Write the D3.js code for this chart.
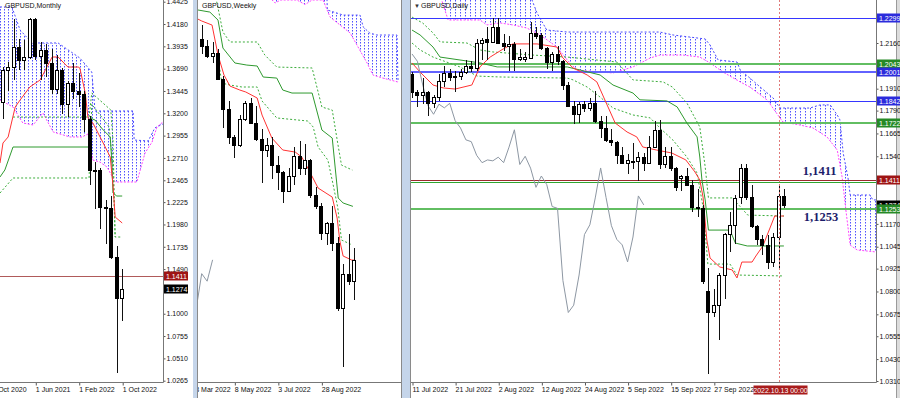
<!DOCTYPE html>
<html>
<head>
<meta charset="utf-8">
<script src="https://cdn.jsdelivr.net/npm/d3@7"></script>
<style>
  body { margin: 0; background: #fff; }
  svg { display: block; font-family: "Liberation Sans", Arial, sans-serif; }
</style>
</head>
<body>
<svg id="chart" width="900" height="398"></svg>
<script>
// ---------- monthly, Dec 2020 .. Oct 2022  [open, high, low, close]
const monthlyBars = [
  [1.3325, 1.3705, 1.3135, 1.3670], [1.3670, 1.3760, 1.3450, 1.3705], [1.3705, 1.4240, 1.3565, 1.3925],
  [1.3925, 1.4015, 1.3670, 1.3785], [1.3785, 1.4010, 1.3670, 1.3815], [1.3815, 1.4250, 1.3800, 1.4230],
  [1.4230, 1.4250, 1.3785, 1.3830], [1.3830, 1.3985, 1.3570, 1.3900], [1.3900, 1.3960, 1.3600, 1.3755],
  [1.3755, 1.3910, 1.3410, 1.3470], [1.3470, 1.3835, 1.3410, 1.3680], [1.3680, 1.3700, 1.3190, 1.3300],
  [1.3300, 1.3550, 1.3160, 1.3530], [1.3530, 1.3750, 1.3355, 1.3450], [1.3450, 1.3640, 1.3270, 1.3410],
  [1.3410, 1.3440, 1.3000, 1.3140], [1.3140, 1.3165, 1.2410, 1.2575], [1.2575, 1.2665, 1.2155, 1.2580],
  [1.2580, 1.2600, 1.1935, 1.2175], [1.2175, 1.2245, 1.1760, 1.2165], [1.2165, 1.2295, 1.1600, 1.1620],
  [1.1620, 1.1740, 1.0350, 1.1170], [1.1170, 1.1495, 1.0925, 1.1274]
]
const monthlyTenkan = [[-0.5, 1.2654], [0.05, 1.2874], [1, 1.2940], [2.3, 1.3269], [3.2, 1.3346], [5, 1.3489],
  [6.9, 1.3566], [9.1, 1.3818], [10.2, 1.3818], [12, 1.3708], [13.9, 1.3708], [14.2, 1.3697], [15.2, 1.3423],
  [15.7, 1.3148], [16.6, 1.3094], [18.5, 1.2874], [19.8, 1.2720], [20.3, 1.2413], [20.7, 1.2062], [22, 1.1996]]
const monthlyKijun = [[-0.5, 1.2501], [0.4, 1.2578], [1.9, 1.2830], [15.9, 1.2830], [16.1, 1.3148], [17, 1.3126],
  [18.5, 1.3017], [19.8, 1.2940], [20.1, 1.2654], [20.3, 1.2325], [21, 1.2292], [22, 1.2292]]
const monthlyGuideA = [[1.9, 1.3159], [15.9, 1.3159], [16.4, 1.3423], [19.9, 1.3236], [20.3, 1.2907],
  [20.7, 1.1842], [22, 1.1842]]
const monthlyGuideB = [[-0.5, 1.2325], [1.9, 1.2490], [15.9, 1.2490], [16.4, 1.3300], [19.6, 1.3050],
  [20.3, 1.2600], [20.7, 1.1842]]
const monthlyCloudTop = [[-0.5, 1.4367], [1.7, 1.4367], [3.2, 1.4114], [5.4, 1.3972], [10.2, 1.3972], [14.2, 1.3807],
  [16.4, 1.3653], [17, 1.3225], [24, 1.3225], [24.2, 1.2907], [26.8, 1.2896], [28, 1.3039], [29.5, 1.3083]]
const monthlyCloudBottom = [[-0.5, 1.3346], [1.9, 1.3269], [3.7, 1.3094], [5.6, 1.3072], [7.4, 1.3203], [9.3, 1.2995],
  [12.4, 1.2940], [14.6, 1.2940], [15.7, 1.2973], [16.6, 1.2687], [17.9, 1.2665], [19.2, 1.2611], [20.7, 1.2446],
  [24.7, 1.2446], [26.2, 1.2764], [27.5, 1.2885], [28.4, 1.3050], [29.5, 1.3105]]
const monthlyLevel = 1.1411
const monthTicks = [1.4425, 1.4180, 1.3935, 1.3690, 1.3445, 1.3200, 1.2955, 1.2710, 1.2465, 1.2225, 1.1980,
  1.1735, 1.1490, 1.1000, 1.0755, 1.0510, 1.0265]
const monthLabels = [[-2, '1 Oct 2020'], [6, '1 Jun 2021'], [14, '1 Feb 2022'], [22, '1 Oct 2022']]

// ---------- weekly, week of 28 Mar 2022 .. week of 10 Oct 2022
const weeklyBars = [
  [1.3180, 1.3300, 1.3050, 1.3115], [1.3115, 1.3170, 1.3015, 1.3035], [1.3035, 1.3150, 1.2975, 1.3060],
  [1.3060, 1.3090, 1.2830, 1.2835], [1.2835, 1.2860, 1.2410, 1.2575], [1.2575, 1.2640, 1.2275, 1.2335],
  [1.2335, 1.2350, 1.2155, 1.2260], [1.2260, 1.2525, 1.2250, 1.2485], [1.2485, 1.2640, 1.2470, 1.2625],
  [1.2625, 1.2665, 1.2460, 1.2450], [1.2450, 1.2600, 1.2300, 1.2315], [1.2315, 1.2405, 1.1935, 1.2220],
  [1.2225, 1.2325, 1.2160, 1.2265], [1.2265, 1.2330, 1.1975, 1.2095], [1.2095, 1.2165, 1.1875, 1.2030],
  [1.2030, 1.2040, 1.1760, 1.1870], [1.1870, 1.2065, 1.1860, 1.2000], [1.2000, 1.2245, 1.1920, 1.2165],
  [1.2165, 1.2295, 1.2005, 1.2070], [1.2070, 1.2275, 1.2005, 1.2135], [1.2135, 1.2140, 1.1805, 1.1830],
  [1.1830, 1.1900, 1.1715, 1.1735], [1.1735, 1.1760, 1.1445, 1.1505], [1.1505, 1.1600, 1.1405, 1.1590],
  [1.1590, 1.1740, 1.1350, 1.1420], [1.1420, 1.1470, 1.0835, 1.0855], [1.0855, 1.1235, 1.0350, 1.1155],
  [1.1155, 1.1495, 1.1060, 1.1090], [1.1090, 1.1380, 1.0925, 1.1274]
]
const weeklyTenkan = [[-1.1, 1.3359], [0, 1.3333], [1.9, 1.3298], [3, 1.3040], [4.1, 1.2867], [5.2, 1.2772],
  [7, 1.2738], [8.1, 1.2721], [10.2, 1.2669], [11.1, 1.2522], [12.9, 1.2324], [14.9, 1.2221], [17.2, 1.2203],
  [18.4, 1.2160], [19.5, 1.2066], [21.4, 1.1893], [24, 1.1815], [24.9, 1.1634], [25.4, 1.1436], [26, 1.1307],
  [27.6, 1.1272], [28.2, 1.1272]]
const weeklyKijun = [[-0.7, 1.3428], [1.5, 1.3410], [3, 1.3341], [3.9, 1.3100], [6.1, 1.2971], [8.3, 1.2953],
  [10.2, 1.2945], [11.3, 1.2850], [13.8, 1.2841], [14.9, 1.2738], [16.6, 1.2712], [20.3, 1.2712], [22.1, 1.2393],
  [24, 1.2324], [25.1, 1.1807], [26, 1.1764], [27.8, 1.1735]]
const weeklyGuideA = [[2.3, 1.3600], [3, 1.3445], [3.9, 1.3238], [5.2, 1.3152], [10.2, 1.3152], [11.6, 1.3040],
  [13.8, 1.2936], [20.3, 1.2928], [22.1, 1.2591], [24, 1.2565], [25, 1.2281], [25.7, 1.2091], [27.7, 1.2048]]
const weeklyGuideB = [[2.9, 1.3050], [3.7, 1.2798], [5.2, 1.2781], [7.4, 1.2764], [10.2, 1.2764], [11.1, 1.2643],
  [13.8, 1.2497], [19.5, 1.2471], [20.5, 1.2419], [21.4, 1.2247], [23.2, 1.2134], [24.1, 1.1936], [25, 1.1729],
  [25.7, 1.1445], [27.7, 1.1402]]
const weeklyCloudTop = [[12, 1.3700], [22.9, 1.3700], [23.1, 1.3428], [26, 1.3384], [29.1, 1.3384], [29.7, 1.3281],
  [30.9, 1.3229], [32.2, 1.3212], [35.9, 1.3212], [36.1, 1.2807]]
const weeklyCloudBottom = [[12, 1.3560], [13.5, 1.3488], [14.5, 1.3514], [17.5, 1.3514], [19, 1.3475], [20.3, 1.3514],
  [22.3, 1.3514], [23.6, 1.3367], [27.3, 1.3229], [30.4, 1.2971], [31.5, 1.2867], [33.3, 1.2841], [36.1, 1.2807]]
const weeklyLagging = [[-1, 1.0855], [0, 1.1155], [1, 1.1090], [2, 1.1274]]
const weekLabels = [[-2, '13 Mar 2022'], [6, '8 May 2022'], [14, '3 Jul 2022'], [22, '28 Aug 2022']]

// ---------- daily, 11 Jul 2022 .. 14 Oct 2022
const dailyBars = [
  [1.1990, 1.2000, 1.1860, 1.1890], [1.1890, 1.1905, 1.1810, 1.1875], [1.1875, 1.1970, 1.1825, 1.1890],
  [1.1890, 1.1900, 1.1760, 1.1830], [1.1830, 1.1875, 1.1805, 1.1865], [1.1865, 1.1990, 1.1845, 1.1950],
  [1.1950, 1.2035, 1.1920, 1.1995], [1.1995, 1.2015, 1.1950, 1.1975], [1.1975, 1.2005, 1.1890, 1.1980],
  [1.1980, 1.2020, 1.1960, 1.2000], [1.2000, 1.2065, 1.1990, 1.2035], [1.2035, 1.2060, 1.2000, 1.2025],
  [1.2025, 1.2180, 1.2005, 1.2160], [1.2160, 1.2185, 1.2065, 1.2175], [1.2180, 1.2245, 1.2065, 1.2165],
  [1.2165, 1.2295, 1.2160, 1.2245], [1.2250, 1.2295, 1.2155, 1.2160], [1.2160, 1.2210, 1.2115, 1.2145],
  [1.2145, 1.2200, 1.2005, 1.2155], [1.2155, 1.2165, 1.2005, 1.2070], [1.2070, 1.2125, 1.2060, 1.2085],
  [1.2075, 1.2110, 1.2055, 1.2085], [1.2080, 1.2275, 1.2070, 1.2215], [1.2215, 1.2245, 1.2180, 1.2200],
  [1.2205, 1.2215, 1.2120, 1.2135], [1.2135, 1.2140, 1.2020, 1.2055], [1.2055, 1.2110, 1.2005, 1.2100],
  [1.2100, 1.2145, 1.2040, 1.2060], [1.2060, 1.2065, 1.1905, 1.1930], [1.1930, 1.1945, 1.1815, 1.1815],
  [1.1815, 1.1840, 1.1715, 1.1770], [1.1770, 1.1835, 1.1720, 1.1825], [1.1825, 1.1845, 1.1785, 1.1805],
  [1.1805, 1.1860, 1.1790, 1.1830], [1.1830, 1.1900, 1.1720, 1.1735], [1.1735, 1.1760, 1.1640, 1.1695],
  [1.1695, 1.1760, 1.1620, 1.1630], [1.1630, 1.1690, 1.1595, 1.1620], [1.1620, 1.1625, 1.1500, 1.1545],
  [1.1545, 1.1590, 1.1495, 1.1505], [1.1505, 1.1550, 1.1445, 1.1520], [1.1515, 1.1610, 1.1470, 1.1515],
  [1.1515, 1.1565, 1.1405, 1.1535], [1.1535, 1.1560, 1.1460, 1.1505], [1.1505, 1.1650, 1.1500, 1.1590],
  [1.1590, 1.1735, 1.1585, 1.1685], [1.1685, 1.1740, 1.1470, 1.1495], [1.1495, 1.1590, 1.1475, 1.1540],
  [1.1540, 1.1590, 1.1460, 1.1475], [1.1475, 1.1480, 1.1350, 1.1370], [1.1420, 1.1440, 1.1350, 1.1432],
  [1.1432, 1.1475, 1.1380, 1.1385], [1.1385, 1.1410, 1.1235, 1.1265], [1.1265, 1.1360, 1.1210, 1.1255],
  [1.1255, 1.1275, 1.0840, 1.0860], [1.0800, 1.0930, 1.0350, 1.0685], [1.0685, 1.0815, 1.0660, 1.0725],
  [1.0725, 1.0900, 1.0535, 1.0890], [1.0890, 1.1120, 1.0760, 1.1112], [1.1112, 1.1235, 1.1015, 1.1165],
  [1.1165, 1.1330, 1.1060, 1.1312], [1.1317, 1.1495, 1.1280, 1.1476], [1.1476, 1.1500, 1.1300, 1.1315],
  [1.1315, 1.1385, 1.1145, 1.1160], [1.1160, 1.1165, 1.1055, 1.1085], [1.1085, 1.1110, 1.1000, 1.1055],
  [1.1055, 1.1110, 1.0925, 1.0962], [1.0962, 1.1120, 1.0935, 1.1098], [1.1098, 1.1380, 1.0925, 1.1323],
  [1.1323, 1.1360, 1.1255, 1.1274]
]
const dailyTenkan = [[0, 1.2051], [1.5, 1.2001], [3.9, 1.1930], [5.8, 1.1914], [8, 1.1908], [11.1, 1.1930],
  [12.6, 1.2029], [14.5, 1.2083], [16.9, 1.2127], [18.7, 1.2155], [23.2, 1.2155], [26.9, 1.2138], [28, 1.2078],
  [29.9, 1.2023], [32.5, 1.1985], [34.3, 1.1947], [36.2, 1.1821], [37.7, 1.1722], [39.9, 1.1673], [41.7, 1.1646],
  [42.8, 1.1591], [45.4, 1.1574], [48.2, 1.1558], [50.8, 1.1520], [52.5, 1.1454], [53.4, 1.1410], [54, 1.1317],
  [54.7, 1.1082], [55.3, 1.0983], [57.1, 1.0934], [59.4, 1.0918], [60.3, 1.0874], [61.2, 1.0961], [63.1, 1.0961],
  [63.8, 1.0994], [65.1, 1.1049], [67.3, 1.1213], [69, 1.1213]]
const dailyKijun = [[0, 1.2231], [1.5, 1.2204], [3.9, 1.2138], [5.2, 1.2083], [8.9, 1.2067], [12.6, 1.2051],
  [15.8, 1.2029], [28.8, 1.2029], [31.2, 1.2012], [34.9, 1.1985], [37.3, 1.1930], [41, 1.1886], [42.3, 1.1849],
  [47.3, 1.1843], [49.2, 1.1810], [51, 1.1722], [52.9, 1.1646], [53.4, 1.1536], [53.8, 1.1410], [54.4, 1.1301],
  [55, 1.1136], [59, 1.1136], [60, 1.1065], [62.2, 1.1049], [69, 1.1049]]
const dailyGuideA = [[0, 1.2302], [2, 1.2269], [3.9, 1.2215], [5.2, 1.2166], [10.2, 1.2160], [12.6, 1.2122],
  [15, 1.2111], [22.4, 1.2094], [28.8, 1.2083], [38, 1.2056], [41, 1.1958], [46.6, 1.1947], [48.3, 1.1919],
  [51, 1.1832], [53.4, 1.1700], [54.4, 1.1481], [55, 1.1312], [59.4, 1.1312], [60.3, 1.1284], [62.3, 1.1218],
  [69, 1.1213]]
const dailyGuideB = [[0, 1.2160], [1.5, 1.2122], [3.9, 1.2083], [8.9, 1.2029], [12.1, 1.1979], [16.3, 1.1974],
  [28.8, 1.1968], [29.9, 1.1958], [32.5, 1.1919], [34.9, 1.1864], [37.3, 1.1804], [41, 1.1766], [44.2, 1.1750],
  [46, 1.1695], [48.4, 1.1629], [51, 1.1536], [52.9, 1.1448], [54, 1.1262], [54.9, 1.0950], [59, 1.0950],
  [60.3, 1.0890], [69, 1.0885]]
const dailyCloudTop = [[0, 1.2614], [21.9, 1.2423], [23.2, 1.2324], [25, 1.2231], [28.8, 1.2220], [46, 1.2220],
  [48.4, 1.2204], [54.4, 1.2182], [55.3, 1.2149], [56.8, 1.2067], [60.3, 1.2056], [60.9, 1.2012], [62.7, 1.1968],
  [64.6, 1.1919], [67, 1.1859], [68.3, 1.1804], [73.8, 1.1804], [75.7, 1.1821], [77.6, 1.1821], [78.9, 1.1766],
  [79.4, 1.1739], [80, 1.1558], [80.9, 1.1421], [81.3, 1.1328], [85, 1.1328], [85.5, 1.1301], [86.2, 1.1301]]
const dailyCloudBottom = [[0, 1.2505], [5.2, 1.2423], [6.7, 1.2286], [12.6, 1.2286], [13.9, 1.2259], [16.3, 1.2270],
  [18.7, 1.2259], [21.3, 1.2242], [23.8, 1.2204], [26.9, 1.2138], [28.8, 1.2067], [30.6, 1.2012], [34.9, 1.2001],
  [37.3, 1.1996], [41, 1.2029], [44.2, 1.2078], [46, 1.2094], [50.3, 1.2094], [53.4, 1.2083], [55.3, 1.2051],
  [57.7, 1.2001], [60.9, 1.1947], [62.7, 1.1919], [65.9, 1.1848], [68.8, 1.1728], [72, 1.1711], [74.4, 1.1695],
  [77, 1.1646], [78.9, 1.1574], [79.8, 1.1427], [80.5, 1.1246], [81.3, 1.1054], [82.6, 1.1027], [86.2, 1.1016]]
const dailyLagging = [1.2100, 1.2060, 1.1930, 1.1815, 1.1770, 1.1825, 1.1805, 1.1830, 1.1735, 1.1695, 1.1630,
  1.1620, 1.1545, 1.1505, 1.1520, 1.1515, 1.1535, 1.1505, 1.1590, 1.1685, 1.1495, 1.1540, 1.1475, 1.1370,
  1.1432, 1.1385, 1.1265, 1.1255, 1.0860, 1.0685, 1.0725, 1.0890, 1.1112, 1.1165, 1.1312, 1.1476, 1.1315,
  1.1160, 1.1085, 1.1055, 1.0962, 1.1098, 1.1323, 1.1274]
const dailyLevels = [1.2299, 1.2043, 1.2001, 1.1842, 1.1722, 1.1411, 1.1398, 1.1253]
const dailyLevelKinds = ['blue', 'green', 'blueWide', 'blue', 'green', 'red', 'greenThin', 'green']
const dailyTagged = [1.2299, 1.2043, 1.2001, 1.1842, 1.1722, 1.1411]
const dailyNotes = [['1,1411', 72.5, 1.1438], ['1,1253', 72.7, 1.1186]]
const dailyTicks = [1.2160, 1.1910, 1.1790, 1.1665, 1.1540, 1.1170, 1.1045,
  1.0925, 1.0800, 1.0675, 1.0555, 1.0430, 1.0310]
const dayLabels = [[0, '11 Jul 2022'], [8, '21 Jul 2022'], [16, '2 Aug 2022'], [24, '12 Aug 2022'],
  [32, '24 Aug 2022'], [40, '5 Sep 2022'], [48, '15 Sep 2022'], [56, '27 Sep 2022']]
const cursorBar = 68
const cursorText = '2022.10.13 00:00'

// ---------- drawing
const FONT = '"Liberation Sans", Arial, sans-serif'
const BASE = 382
const svg = d3.select('#chart')
const defs = svg.append('defs')

const xM = d3.scaleLinear().domain([0, 22]).range([2.7, 122.2])
const yM = d3.scaleLinear().domain([1.0265, 1.4425]).range([380.7, 1.7])
const xW = d3.scaleLinear().domain([0, 28]).range([201.7, 354])
const yW = d3.scaleLinear().domain([1.0221, 1.3514]).range([382, 0])
const xD = d3.scaleLinear().domain([0, 68]).range([412, 778.5])
const yD = d3.scaleLinear().domain([1.0310, 1.2160]).range([381, 43])

function hatch(id, step) {
  const p = defs.append('pattern').attr('id', id).attr('patternUnits', 'userSpaceOnUse')
    .attr('width', step).attr('height', 3)
  p.append('rect').attr('width', 1).attr('height', 1.5).attr('fill', '#5050ff')
}
hatch('hatchM', 4)
hatch('hatchD', 5)

function clipRect(id, x0, x1, y0, y1) {
  defs.append('clipPath').attr('id', id).append('rect')
    .attr('x', x0).attr('y', y0).attr('width', x1 - x0).attr('height', y1 - y0)
}
clipRect('clipM', 0, 163, 0, BASE)
clipRect('clipW', 198, 401, 0, BASE)
clipRect('clipD', 411, 876, 0, BASE)
clipRect('clipWlab', 198, 401, BASE, 398)

function interp(pts, i) {
  if (i <= pts[0][0]) return pts[0][1]
  for (let k = 1; k < pts.length; k++) {
    if (i <= pts[k][0]) {
      const [a, pa] = pts[k - 1]
      const [b, pb] = pts[k]
      return pa + (pb - pa) * (i - a) / (b - a)
    }
  }
  return pts[pts.length - 1][1]
}

function cloud(g, x, y, top, bottom, hatchId) {
  const keys = Array.from(new Set(top.map(d => d[0]).concat(bottom.map(d => d[0])))).sort((a, b) => a - b)
  const rows = keys.map(i => [i, interp(top, i), interp(bottom, i)])
  g.append('path').datum(rows).attr('fill', `url(#${hatchId})`)
    .attr('d', d3.area().x(d => x(d[0])).y0(d => y(d[2])).y1(d => y(d[1])))
  line(g, x, y, top, '#4a4aff', '2,2', 1)
  line(g, x, y, bottom, '#ff44ff', '2,1.5', 1)
}

function line(g, x, y, pts, color, dash, w) {
  g.append('path').datum(pts)
    .attr('fill', 'none').attr('stroke', color).attr('stroke-width', w)
    .attr('stroke-dasharray', dash)
    .attr('d', d3.line().x(d => x(d[0])).y(d => y(d[1])))
}

function candles(g, x, y, bars) {
  const c = g.append('g')
  const px = (d, i) => Math.round(x(i))
  c.selectAll('line').data(bars).join('line')
    .attr('x1', (d, i) => px(d, i) + 0.5).attr('x2', (d, i) => px(d, i) + 0.5)
    .attr('y1', d => Math.round(y(d[1]))).attr('y2', d => Math.round(y(d[2])))
    .attr('stroke', '#111').attr('stroke-width', 1)
  c.selectAll('rect').data(bars).join('rect')
    .attr('x', (d, i) => px(d, i) - 1.5).attr('width', 3)
    .attr('y', d => Math.round(y(Math.max(d[0], d[3]))) + 0.5)
    .attr('height', d => Math.max(1, Math.round(y(Math.min(d[0], d[3]))) - Math.round(y(Math.max(d[0], d[3])))))
    .attr('fill', d => d[3] >= d[0] ? '#fff' : '#000')
    .attr('stroke', '#000').attr('stroke-width', 1)
}

function tag(x, yv, text, fill) {
  const g = svg.append('g')
  g.append('rect').attr('x', x).attr('y', Math.round(yv) - 4.5).attr('width', 24).attr('height', 9).attr('fill', fill)
  g.append('text').attr('x', x + 2).attr('y', Math.round(yv) + 2.5).attr('fill', '#fff')
    .attr('font-size', 7).attr('font-family', FONT).text(text)
}

function priceAxis(xPos, y, ticks) {
  const ax = svg.append('g').attr('transform', `translate(${xPos},0)`)
    .call(d3.axisRight(y).tickValues(ticks).tickFormat(d3.format('.4f')).tickSize(2).tickPadding(1))
  ax.select('.domain').remove()
  ax.attr('font-size', 7).attr('font-family', FONT)
  ax.selectAll('line').attr('stroke', '#555')
  ax.selectAll('text').attr('fill', '#111')
  svg.append('line').attr('x1', xPos).attr('x2', xPos).attr('y1', 0).attr('y2', BASE + 0.5)
    .attr('stroke', '#777')
}

function timeAxis(parent, x, labels, x0, x1) {
  const lab = new Map(labels)
  const ax = parent.append('g').attr('transform', `translate(0,${BASE + 0.5})`)
    .call(d3.axisBottom(x).tickValues(labels.map(d => d[0])).tickFormat(d => lab.get(d)).tickSize(3).tickPadding(2))
  ax.select('.domain').remove()
  ax.attr('font-size', 7).attr('font-family', FONT)
  ax.selectAll('line').attr('stroke', '#555').attr('transform', 'translate(0.5,0)')
  ax.selectAll('text').attr('text-anchor', 'start').attr('x', 0).attr('fill', '#111')
  parent.append('line').attr('x1', x0).attr('x2', x1).attr('y1', BASE + 0.5).attr('y2', BASE + 0.5).attr('stroke', '#777')
}

function title(x, text) {
  svg.append('text').attr('x', x).attr('y', 8).attr('font-size', 7).attr('font-family', FONT)
    .attr('fill', '#111').text(text)
}

// ----- frames
svg.append('rect').attr('x', 193).attr('y', 0).attr('width', 4).attr('height', 398).attr('fill', '#c5d5ea')
svg.append('rect').attr('x', 402).attr('y', 0).attr('width', 8).attr('height', 398).attr('fill', '#c5d5ea')
svg.append('rect').attr('x', 897).attr('y', 0).attr('width', 3).attr('height', 398).attr('fill', '#dcdcdc')
svg.append('line').attr('x1', 197.5).attr('x2', 197.5).attr('y1', 0).attr('y2', 398).attr('stroke', '#8a8a8a')
svg.append('line').attr('x1', 401.5).attr('x2', 401.5).attr('y1', 0).attr('y2', 398).attr('stroke', '#8a8a8a')
svg.append('line').attr('x1', 410.5).attr('x2', 410.5).attr('y1', 0).attr('y2', 398).attr('stroke', '#8a8a8a')
svg.append('line').attr('x1', 896.5).attr('x2', 896.5).attr('y1', 0).attr('y2', 398).attr('stroke', '#9a9a9a')

// ----- monthly panel
const gM = svg.append('g').attr('clip-path', 'url(#clipM)')
cloud(gM, xM, yM, monthlyCloudTop, monthlyCloudBottom, 'hatchM')
gM.append('line').attr('x1', 0).attr('x2', 163).attr('y1', Math.round(yM(monthlyLevel)) + 0.5)
  .attr('y2', Math.round(yM(monthlyLevel)) + 0.5).attr('stroke', '#b05a5a')
line(gM, xM, yM, monthlyGuideB, '#3cad3c', '2,2', 1)
line(gM, xM, yM, monthlyGuideA, '#3cad3c', '2,2', 1)
line(gM, xM, yM, monthlyKijun, '#2f9a2f', null, 1)
line(gM, xM, yM, monthlyTenkan, '#ff3333', null, 1)
candles(gM, xM, yM, monthlyBars)
priceAxis(163.5, yM, monthTicks)
timeAxis(svg.append('g'), xM, monthLabels, 0, 163.5)
const lastM = monthlyBars[monthlyBars.length - 1][3]
tag(164, yM(monthlyLevel), d3.format('.4f')(monthlyLevel), '#9e1414')
tag(164, yM(lastM), d3.format('.4f')(lastM), '#000')
title(5, 'GBPUSD,Monthly')

// ----- weekly panel
const gW = svg.append('g').attr('clip-path', 'url(#clipW)')
cloud(gW, xW, yW, weeklyCloudTop, weeklyCloudBottom, 'hatchM')
line(gW, xW, yW, weeklyGuideA, '#3cad3c', '2,2', 1)
line(gW, xW, yW, weeklyGuideB, '#3cad3c', '2,2', 1)
line(gW, xW, yW, weeklyKijun, '#2f9a2f', null, 1)
line(gW, xW, yW, weeklyTenkan, '#ff3333', null, 1)
line(gW, xW, yW, weeklyLagging, '#8d97a3', null, 1)
candles(gW, xW, yW, weeklyBars)
timeAxis(svg.append('g').attr('clip-path', 'url(#clipWlab)'), xW, weekLabels, 198, 401)
title(202, 'GBPUSD,Weekly')

// ----- daily panel
const gD = svg.append('g').attr('clip-path', 'url(#clipD)')
cloud(gD, xD, yD, dailyCloudTop, dailyCloudBottom, 'hatchD')
const levelStyle = {
  blue: ['#3636ff', 1], blueWide: ['#6262ff', 2], green: ['#62be62', 2],
  greenThin: ['#2fa52f', 1], red: ['#9a2a2a', 1]
}
dailyLevels.forEach((p, k) => {
  const [col, w] = levelStyle[dailyLevelKinds[k]]
  const yy = Math.round(yD(p)) + (w === 1 ? 0.5 : 0)
  gD.append('line').attr('x1', 411).attr('x2', 876).attr('y1', yy).attr('y2', yy)
    .attr('stroke', col).attr('stroke-width', w)
})
line(gD, xD, yD, dailyGuideA, '#3cad3c', '2,2', 1)
line(gD, xD, yD, dailyGuideB, '#3cad3c', '2,2', 1)
line(gD, xD, yD, dailyKijun, '#2f9a2f', null, 1)
line(gD, xD, yD, dailyTenkan, '#ff3333', null, 1)
line(gD, xD, yD, dailyLagging.map((v, i) => [i, v]), '#8d97a3', null, 1)
candles(gD, xD, yD, dailyBars)
const cx = Math.round(xD(cursorBar)) + 0.5
gD.append('line').attr('x1', cx).attr('x2', cx).attr('y1', 0).attr('y2', BASE)
  .attr('stroke', '#e07a7a').attr('stroke-dasharray', '2,2')
dailyNotes.forEach(([t, i, p]) => {
  gD.append('text').attr('x', xD(i)).attr('y', yD(p)).attr('font-family', '"Liberation Serif", "Times New Roman", serif')
    .attr('font-weight', 'bold').attr('font-size', 12.5).attr('fill', '#1c1c6a').text(t)
})
priceAxis(876.5, yD, dailyTicks)
timeAxis(svg.append('g'), xD, dayLabels, 411, 876.5)
const tagColor = p => (p === 1.1411 ? '#9e1414' : [1.2043, 1.1722, 1.1253].includes(p) ? '#268a26' : '#2b2bdc')
dailyTagged.forEach(p => tag(877, yD(p), d3.format('.4f')(p), tagColor(p)))
const lastD = dailyBars[dailyBars.length - 1][3]
tag(877, yD(lastD), d3.format('.4f')(lastD), '#000')
tag(877, yD(1.1253), '1.1253', tagColor(1.1253))
svg.append('rect').attr('x', cx - 26).attr('y', 385.5).attr('width', 54).attr('height', 9).attr('fill', '#a81c1c')
svg.append('text').attr('x', cx + 1).attr('y', 392.5).attr('text-anchor', 'middle').attr('fill', '#fff')
  .attr('font-size', 7).attr('font-family', FONT).text(cursorText)
svg.append('text').attr('x', 414).attr('y', 8).attr('font-size', 6).attr('fill', '#333').text('▼')
title(421, 'GBPUSD,Daily')
</script>
</body>
</html>
